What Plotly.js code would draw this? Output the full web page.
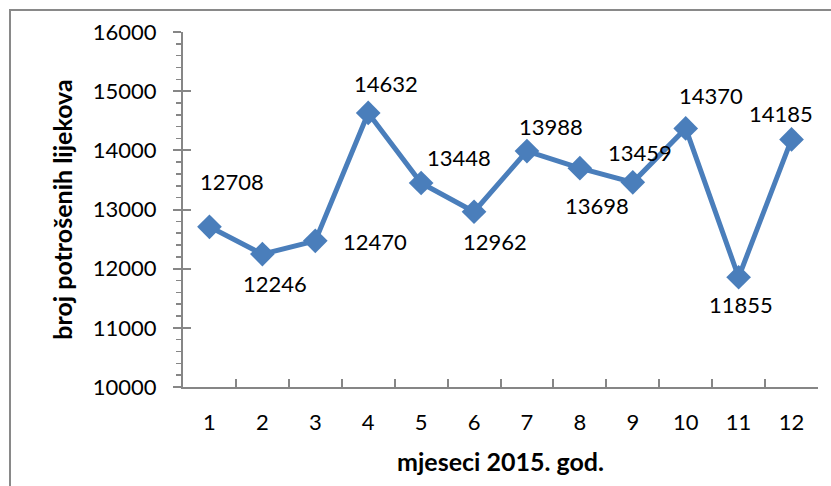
<!DOCTYPE html>
<html>
<head>
<meta charset="utf-8">
<script src="https://cdn.plot.ly/plotly-3.0.1.min.js"></script>
<style>html,body{margin:0;padding:0;background:#fff;}#chart{width:831px;height:486px;}</style>
</head>
<body>
<div id="chart"></div>
<script>
const months = ["1","2","3","4","5","6","7","8","9","10","11","12"];
const values = [12708, 12246, 12470, 14632, 13448, 12962, 13988, 13698, 13459, 14370, 11855, 14185];
const yTicks = [10000, 11000, 12000, 13000, 14000, 15000, 16000];
const xTitle = "mjeseci 2015. god.";
const yTitle = "broj potrošenih lijekova";

// label offsets in pixels (style only)
const labelDx = [23, 13, 60, 18, 38, 21, 24, 17, 7, 25, 2, -11];
const labelDy = [45, -29, -1, 29, 25, -30, 25, -37, 30, 33, -27, 26];

const FONT = "Lato, 'Open Sans', sans-serif";
const blue = "#4a7ebb";
const grey = "#868686";

const trace = {
  x: months,
  y: values,
  type: "scatter",
  mode: "lines+markers",
  line: {color: blue, width: 5},
  marker: {symbol: "diamond", size: 19, color: blue},
  hoverinfo: "x+y"
};

const annotations = months.map((m, i) => ({
  x: i, y: values[i], xref: "x", yref: "y",
  text: String(values[i]), showarrow: false,
  xshift: labelDx[i], yshift: labelDy[i],
  font: {family: FONT, size: 22, color: "#000"}
}));

const layout = {
  width: 831, height: 486,
  margin: {l: 183, r: 13, t: 32, b: 99},
  paper_bgcolor: "#fff", plot_bgcolor: "#fff",
  showlegend: false,
  font: {family: FONT, color: "#000"},
  xaxis: {
    type: "category",
    range: [-0.5, 11.5],
    tickson: "boundaries",
    ticks: "inside", ticklen: 8, tickwidth: 2, tickcolor: grey,
    showline: true, linecolor: grey, linewidth: 2,
    showgrid: false, zeroline: false,
    tickfont: {family: FONT, size: 22, color: "#000"},
    ticklabelstandoff: 15,
    title: {text: xTitle, font: {family: FONT, size: 25, color: "#000", weight: "bold"}, standoff: 19}
  },
  yaxis: {
    range: [10000, 16000],
    tickvals: yTicks,
    ticktext: yTicks.map(String),
    ticks: "outside", ticklen: 8, tickwidth: 2, tickcolor: grey,
    minor: {dtick: 200, ticks: "outside", ticklen: 5, tickwidth: 1.5, tickcolor: grey},
    showline: true, linecolor: grey, linewidth: 2,
    showgrid: false, zeroline: false,
    tickfont: {family: FONT, size: 22, color: "#000"},
    ticklabelstandoff: 12,
    title: {text: yTitle, font: {family: FONT, size: 25, color: "#000", weight: "bold"}, standoff: 13}
  },
  yaxis2: {
    overlaying: "y", anchor: "x", side: "left",
    range: [10000, 16000],
    tickvals: yTicks, showticklabels: false,
    ticks: "inside", ticklen: 8, tickwidth: 2, tickcolor: grey,
    showline: false, showgrid: false, zeroline: false
  },
  annotations: annotations,
  shapes: [{
    type: "rect", xref: "paper", yref: "paper", layer: "below",
    x0: -173/635, x1: 1.1, y0: -0.5, y1: 1 + 22/355,
    line: {color: "#898989", width: 2}, fillcolor: "rgba(0,0,0,0)"
  }]
};

const helper = {x: [months[0]], y: [values[0]], yaxis: "y2", type: "scatter", mode: "markers",
  marker: {opacity: 0}, hoverinfo: "skip", showlegend: false};

Plotly.newPlot("chart", [helper, trace], layout, {displayModeBar: false, staticPlot: true});
</script>
</body>
</html>
